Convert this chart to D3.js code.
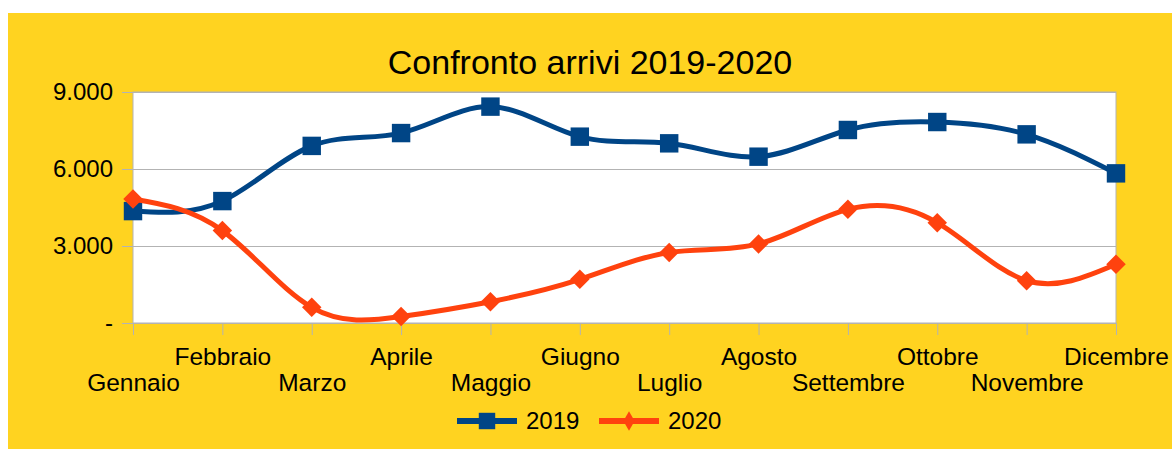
<!DOCTYPE html>
<html>
<head>
<meta charset="utf-8">
<script src="https://cdn.jsdelivr.net/npm/d3@7"></script>
<style>
  html, body { margin: 0; padding: 0; background: #fff; }
  svg { display: block; font-family: 'Liberation Sans', Arial, sans-serif; }
</style>
</head>
<body>
<svg id="chart" width="1174" height="449"></svg>
<script>
// data
const months = ['Gennaio', 'Febbraio', 'Marzo', 'Aprile', 'Maggio', 'Giugno',
  'Luglio', 'Agosto', 'Settembre', 'Ottobre', 'Novembre', 'Dicembre'];
const arrivi2019 = [4360, 4750, 6900, 7400, 8430, 7260, 7000, 6480, 7520, 7830, 7350, 5830];
const arrivi2020 = [4830, 3600, 610, 250, 830, 1700, 2750, 3080, 4430, 3910, 1650, 2290];
const yTicks = [0, 3000, 6000, 9000];

const seriesList = [
  { name: '2019', values: arrivi2019, color: '#004586', square: true },
  { name: '2020', values: arrivi2020, color: '#ff420e', square: false }
];

const margin = { top: 92, right: 58, bottom: 126, left: 133 };
const width = 1174, height = 449;
const chartWidth = width - margin.left - margin.right;
const chartHeight = height - margin.top - margin.bottom;

const svg = d3.select('#chart');

// background
svg.append('rect')
  .attr('x', 8).attr('y', 13)
  .attr('width', 1164).attr('height', 436)
  .attr('fill', '#ffd320');

svg.append('text')
  .attr('x', 590).attr('y', 74)
  .attr('text-anchor', 'middle')
  .style('font-size', '34px')
  .text('Confronto arrivi 2019-2020');

const g = svg.append('g')
  .attr('transform', `translate(${margin.left},${margin.top})`);

const x = d3.scalePoint().domain(months).range([0, chartWidth]);
const y = d3.scaleLinear().domain([0, 9000]).range([chartHeight, 0]);

g.append('rect')
  .attr('width', chartWidth).attr('height', chartHeight)
  .attr('fill', '#fff')
  .attr('stroke', '#b3b3b3');

const fmt = d => d === 0 ? '-' : d3.format(',')(d).replace(/,/g, '.');

const yAxis = g.append('g')
  .call(d3.axisLeft(y).tickValues(yTicks).tickSize(-chartWidth).tickSizeOuter(0).tickPadding(20).tickFormat(fmt));
yAxis.select('.domain').remove();
yAxis.selectAll('.tick line').attr('stroke', '#b3b3b3').attr('x1', -11);
yAxis.selectAll('.tick text')
  .attr('fill', '#000')
  .attr('x', -20)
  .style('font-size', '24px');

const xAxis = g.append('g')
  .attr('transform', `translate(0,${chartHeight})`)
  .call(d3.axisBottom(x).tickSize(12).tickSizeOuter(0));
xAxis.select('.domain').attr('stroke', '#b3b3b3');
xAxis.selectAll('.tick line').attr('stroke', '#b3b3b3');
xAxis.selectAll('.tick text')
  .attr('fill', '#000')
  .style('font-size', '24.5px')
  .attr('dy', null)
  .attr('y', (d, i) => i % 2 === 0 ? 68 : 42);

const line = d3.line()
  .x((d, i) => x(months[i]))
  .y(d => y(d))
  .curve(d3.curveNatural);

// square marker, or the same square turned 45 degrees for the diamond
const marker = (sel, square, size) => sel
  .attr('d', d3.symbol().type(d3.symbolSquare).size(size))
  .attr('transform', function () {
    return d3.select(this).attr('transform') + (square ? '' : ' rotate(45)');
  });

seriesList.forEach(s => {
  g.append('path')
    .datum(s.values)
    .attr('d', line)
    .attr('fill', 'none')
    .attr('stroke', s.color)
    .attr('stroke-width', 5);

  g.selectAll(null)
    .data(s.values)
    .enter()
    .append('path')
    .attr('transform', (d, i) => `translate(${x(months[i])},${y(d)})`)
    .call(marker, s.square, s.square ? 340 : 190)
    .attr('fill', s.color);
});

// legend
const legend = svg.append('g').attr('transform', 'translate(457,421)');
const legendX = [0, 142];
seriesList.forEach((s, i) => {
  const lg = legend.append('g').attr('transform', `translate(${legendX[i]},0)`);
  lg.append('line')
    .attr('x1', 0).attr('x2', 60)
    .attr('stroke', s.color).attr('stroke-width', 6);
  lg.append('path')
    .attr('transform', 'translate(30,0)')
    .attr('d', s.square
      ? d3.symbol().type(d3.symbolSquare).size(270)
      : d3.symbol().type(d3.symbolDiamond).size(110))
    .attr('fill', s.color);
  lg.append('text')
    .attr('x', 69).attr('y', 8)
    .style('font-size', '24px')
    .text(s.name);
});
</script>
</body>
</html>
